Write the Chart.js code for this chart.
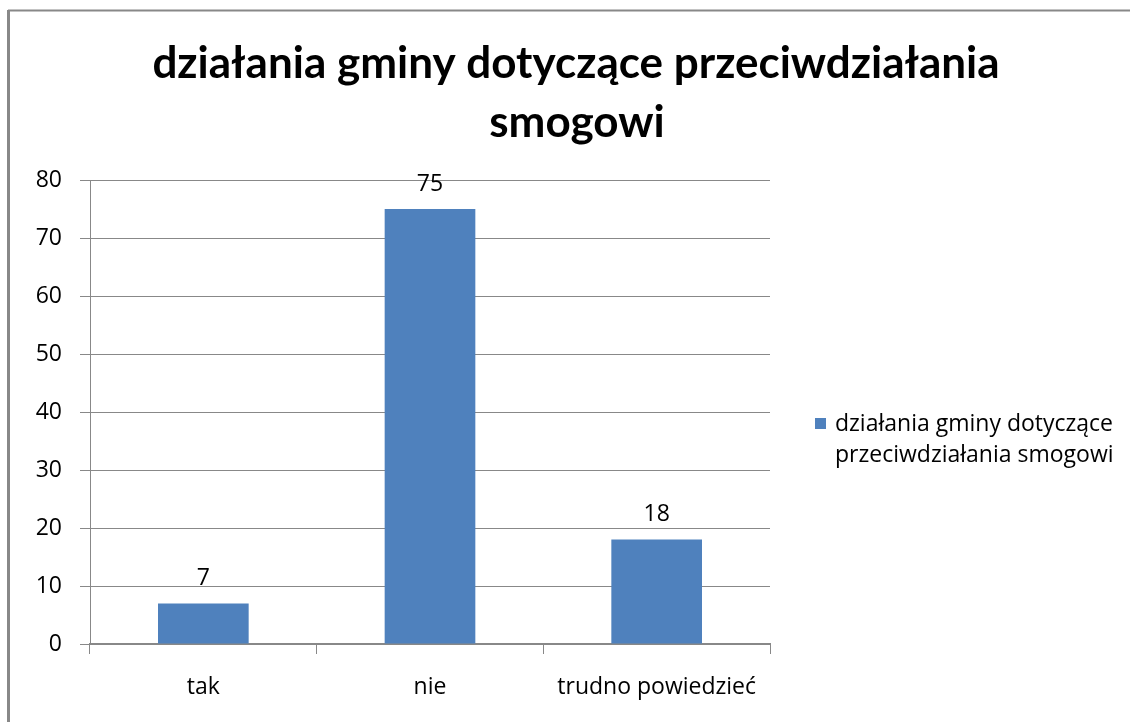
<!DOCTYPE html>
<html>
<head>
<meta charset="utf-8">
<script src="https://cdn.jsdelivr.net/npm/chart.js@4.4.1/dist/chart.umd.min.js"></script>
<style>
  html, body { margin: 0; padding: 0; background: #fff; }
  #wrap { width: 1130px; height: 722px; }
</style>
</head>
<body>
<div id="wrap"><canvas id="smogChart" width="1130" height="722"></canvas></div>
<script>
// data
const categories = ["tak", "nie", "trudno powiedzieć"];
const answers = [7, 75, 18];
const seriesName = "działania gminy dotyczące przeciwdziałania smogowi";
const titleLines = ["działania gminy dotyczące przeciwdziałania", "smogowi"];
const legendLines = ["działania gminy dotyczące", "przeciwdziałania smogowi"];

const TITLE_FONT = "Lato, 'Open Sans', sans-serif";
const FONT = "'Open Sans', Lato, sans-serif";
const TEXT_SIZE = 23;
const BAR_BLUE = "#4f81bd";
const LINE_GREY = "#888888";

// frame, title, legend and value labels (drawn like the office chart)
const decorations = {
    id: "decorations",
    beforeDraw(chart) {
        const ctx = chart.ctx;
        ctx.save();
        ctx.strokeStyle = LINE_GREY;
        ctx.lineWidth = 2;
        ctx.beginPath();
        ctx.moveTo(8, 10.5);
        ctx.lineTo(1130, 10.5);
        ctx.stroke();
        ctx.lineWidth = 3;
        ctx.beginPath();
        ctx.moveTo(8.5, 10);
        ctx.lineTo(8.5, 722);
        ctx.stroke();
        ctx.restore();
    },
    afterDraw(chart) {
        const ctx = chart.ctx;
        ctx.save();

        // title
        ctx.fillStyle = "#000";
        ctx.textAlign = "center";
        ctx.textBaseline = "alphabetic";
        ctx.font = "bold 44px " + TITLE_FONT;
        ctx.fillText(titleLines[0], 576, 78);
        ctx.fillText(titleLines[1], 577, 137);

        // values above bars
        const meta = chart.getDatasetMeta(0);
        ctx.font = TEXT_SIZE + "px " + FONT;
        ctx.textBaseline = "middle";
        meta.data.forEach((bar, i) => {
            ctx.fillText(String(answers[i]), bar.x, bar.y - 25);
        });

        // legend
        ctx.fillStyle = BAR_BLUE;
        ctx.fillRect(815, 418, 11, 11);
        ctx.fillStyle = "#000";
        ctx.textAlign = "left";
        ctx.fillText(legendLines[0], 835, 424);
        ctx.fillText(legendLines[1], 835, 455);

        ctx.restore();
    }
};

new Chart(document.getElementById("smogChart"), {
    type: "bar",
    data: {
        labels: categories,
        datasets: [{
            label: seriesName,
            data: answers,
            backgroundColor: BAR_BLUE,
            categoryPercentage: 1,
            barPercentage: 0.4
        }]
    },
    options: {
        responsive: false,
        animation: false,
        layout: { padding: { left: 0, right: 360, top: 180, bottom: 0 } },
        plugins: {
            legend: { display: false },
            title: { display: false },
            tooltip: { enabled: false }
        },
        scales: {
            x: {
                grid: {
                    offset: true,
                    drawOnChartArea: false,
                    drawTicks: true,
                    tickLength: 10,
                    color: LINE_GREY,
                    lineWidth: 1
                },
                border: { color: LINE_GREY, width: 2 },
                ticks: {
                    color: "#000",
                    font: { family: FONT, size: TEXT_SIZE },
                    padding: 20,
                    maxRotation: 0
                },
                afterFit(scale) { scale.height = 78; }
            },
            y: {
                min: 0,
                max: 80,
                ticks: {
                    stepSize: 10,
                    color: "#000",
                    font: { family: FONT, size: TEXT_SIZE },
                    padding: 18
                },
                grid: {
                    color: LINE_GREY,
                    tickLength: 10,
                    lineWidth: 1
                },
                border: { color: LINE_GREY, width: 1 },
                afterFit(scale) { scale.width = 90; }
            }
        }
    },
    plugins: [decorations]
});
</script>
</body>
</html>
